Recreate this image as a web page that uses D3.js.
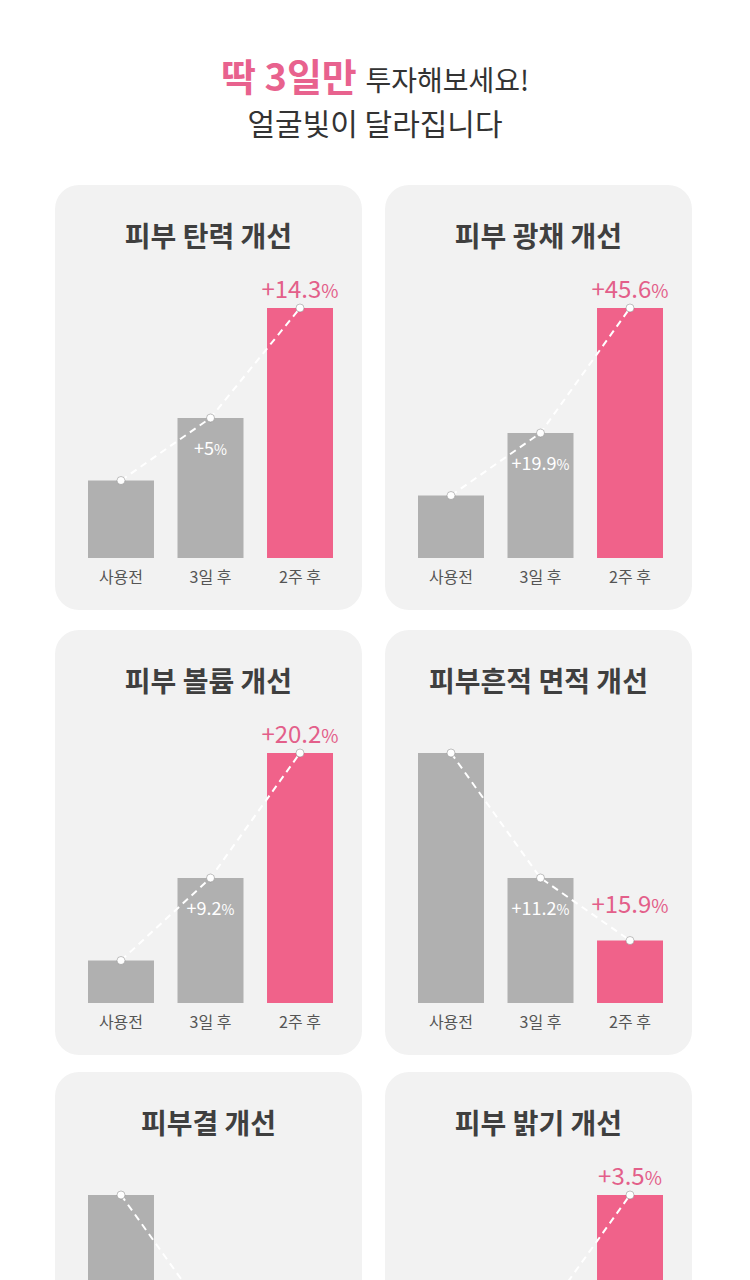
<!DOCTYPE html>
<html>
<head>
<meta charset="utf-8">
<script src="https://cdn.jsdelivr.net/npm/d3@7"></script>
<style>
  body { margin: 0; background: #fff; }
  svg { display: block; font-family: "Noto Sans CJK KR", "Noto Sans", sans-serif; }
</style>
</head>
<body>
<script>
// data
var categories = ['사용전', '3일 후', '2주 후'];
var titles = ['피부 탄력 개선', '피부 광채 개선', '피부 볼륨 개선', '피부흔적 면적 개선', '피부결 개선', '피부 밝기 개선'];
// relative bar heights (tallest bar = 100)
var barValues = [
  [31, 56, 100],
  [25, 50, 100],
  [17, 50, 100],
  [100, 50, 25],
  [100, 50, 25],
  [25, 50, 100]
];
var midLabels = ['+5', '+19.9', '+9.2', '+11.2', '', ''];
var endLabels = ['+14.3', '+45.6', '+20.2', '+15.9', '', '+3.5'];

var W = 750, H = 1280;
var pink = '#f0628a', pinkText = '#e35f8a', gray = '#b0b0b0';
var panelW = 307, panelH = 425;
var colX = [55, 385], rowY = [185, 630, 1072];

var svg = d3.select('body').append('svg')
  .attr('width', W)
  .attr('height', H);

// header
var head = svg.append('text')
  .attr('x', W / 2)
  .attr('y', 91)
  .attr('text-anchor', 'middle');
head.append('tspan')
  .attr('fill', '#e8628e')
  .attr('font-size', 38)
  .attr('font-weight', 700)
  .text('딱 3일만 ');
head.append('tspan')
  .attr('fill', '#333')
  .attr('font-size', 28)
  .text('투자해보세요!');

svg.append('text')
  .attr('x', W / 2)
  .attr('y', 135)
  .attr('text-anchor', 'middle')
  .attr('fill', '#333')
  .attr('font-size', 30)
  .text('얼굴빛이 달라집니다');

var addPct = function(sel, txt, size) {
  sel.append('tspan').text(txt);
  sel.append('tspan').attr('font-size', size * 0.78).text('%');
};

titles.forEach(function(title, i) {
  var px = colX[i % 2], py = rowY[Math.floor(i / 2)];
  var vals = barValues[i];
  var g = svg.append('g').attr('transform', 'translate(' + px + ',' + py + ')');

  g.append('rect')
    .attr('width', panelW)
    .attr('height', panelH)
    .attr('rx', 24)
    .attr('fill', '#f2f2f2');

  g.append('text')
    .attr('x', panelW / 2)
    .attr('y', 62)
    .attr('text-anchor', 'middle')
    .attr('fill', '#3f3f3f')
    .attr('font-size', 28)
    .attr('font-weight', 700)
    .text(title);

  var x = d3.scaleBand()
    .domain(categories)
    .range([33, 278])
    .paddingInner(0.263);

  var y = d3.scaleLinear()
    .domain([0, 100])
    .range([373, 123]);

  g.selectAll('.bar')
    .data(vals)
    .enter().append('rect')
    .attr('x', function(d, j) { return x(categories[j]); })
    .attr('y', function(d) { return y(d); })
    .attr('width', x.bandwidth())
    .attr('height', function(d) { return y(0) - y(d); })
    .attr('fill', function(d, j) { return j === 2 ? pink : gray; });

  var cx = function(d, j) { return x(categories[j]) + x.bandwidth() / 2; };

  g.append('path')
    .datum(vals)
    .attr('d', d3.line().x(cx).y(function(d) { return y(d); }))
    .attr('fill', 'none')
    .attr('stroke', '#fff')
    .attr('stroke-width', 2)
    .attr('stroke-dasharray', '7,5');

  g.selectAll('.dot')
    .data(vals)
    .enter().append('circle')
    .attr('cx', cx)
    .attr('cy', function(d) { return y(d); })
    .attr('r', 4)
    .attr('fill', '#fff')
    .attr('stroke', 'rgba(120,120,120,0.45)')
    .attr('stroke-width', 1);

  // category labels of the last row fall below the page
  if (py + 398 < H) {
    g.selectAll('.cat')
      .data(categories)
      .enter().append('text')
      .attr('x', function(d) { return x(d) + x.bandwidth() / 2; })
      .attr('y', 398)
      .attr('text-anchor', 'middle')
      .attr('fill', '#555')
      .attr('font-size', 16)
      .text(function(d) { return d; });
  }

  if (midLabels[i]) {
    var m = g.append('text')
      .attr('x', x(categories[1]) + x.bandwidth() / 2)
      .attr('y', y(vals[1]) + 37)
      .attr('text-anchor', 'middle')
      .attr('fill', '#fff')
      .attr('font-size', 18);
    addPct(m, midLabels[i], 18);
  }

  if (endLabels[i]) {
    var top = vals[2] === d3.max(vals);
    var e = g.append('text')
      .attr('x', x(categories[2]) + x.bandwidth() / 2)
      .attr('y', y(vals[2]) - (top ? 10 : 28))
      .attr('text-anchor', 'middle')
      .attr('fill', pinkText)
      .attr('font-size', 24);
    addPct(e, endLabels[i], 24);
  }
});
</script>
</body>
</html>
